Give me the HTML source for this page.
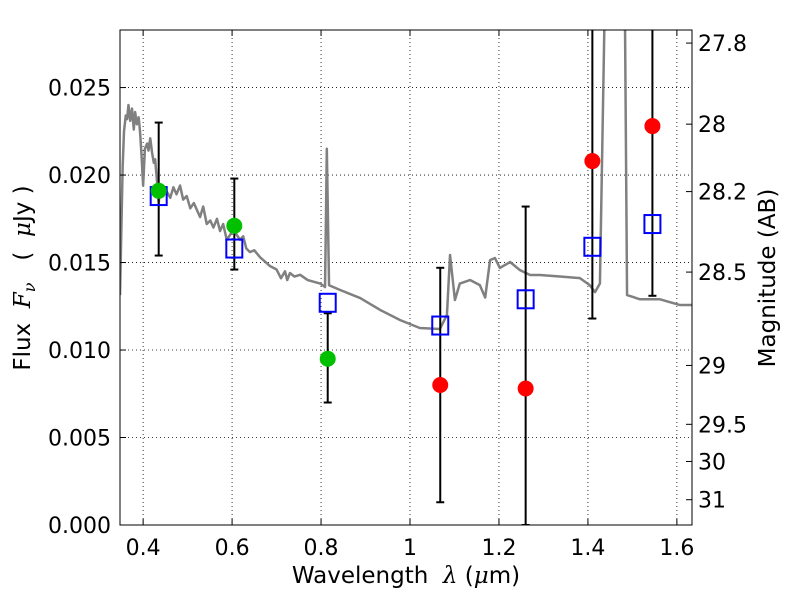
<!DOCTYPE html>
<html><head><meta charset="utf-8"><style>
body{margin:0;background:#fff;}
text{font-family:"DejaVu Sans","Liberation Sans",sans-serif;fill:#000;}
</style></head><body>
<svg id="chart" width="800" height="600" xmlns="http://www.w3.org/2000/svg">
<defs><clipPath id="pc"><rect x="120" y="30" width="572" height="495"/></clipPath></defs>
<g id="grid"></g>
<g id="spec" clip-path="url(#pc)"></g>
<g id="pts" clip-path="url(#pc)"></g>
<rect x="120" y="30" width="572" height="495" fill="none" stroke="#000" stroke-width="1"/>
<g id="axes"></g>
<text x="406" y="583" font-size="23" text-anchor="middle" xml:space="preserve">Wavelength  <tspan font-style="italic" font-family="DejaVu Serif, serif">λ</tspan> (<tspan font-style="italic" font-family="DejaVu Serif, serif">μ</tspan>m)</text>
<text transform="translate(30,278) rotate(-90)" font-size="23" text-anchor="middle" xml:space="preserve">Flux  <tspan font-style="italic" font-family="DejaVu Serif, serif">F<tspan font-size="16" dy="5">ν</tspan></tspan><tspan dy="-5">   (  </tspan><tspan font-style="italic" font-family="DejaVu Serif, serif">μ</tspan>Jy )</text>
<text transform="translate(775,278) rotate(-90)" font-size="23" text-anchor="middle">Magnitude (AB)</text>
</svg>
<script>
const specX=[0.348,0.354,0.357,0.361,0.364,0.367,0.371,0.375,0.379,0.382,0.386,0.390,0.393,0.396,0.400,0.404,0.409,0.412,0.416,0.420,0.424,0.427,0.431,0.435,0.438,0.445,0.452,0.461,0.468,0.475,0.483,0.490,0.498,0.506,0.514,0.521,0.528,0.535,0.543,0.551,0.558,0.566,0.573,0.580,0.588,0.596,0.603,0.610,0.618,0.625,0.632,0.640,0.650,0.663,0.672,0.685,0.700,0.710,0.719,0.724,0.730,0.740,0.753,0.770,0.798,0.809,0.813,0.818,0.843,0.888,0.933,0.978,1.022,1.067,1.083,1.090,1.101,1.112,1.135,1.157,1.169,1.180,1.191,1.202,1.225,1.247,1.270,1.292,1.337,1.382,1.404,1.416,1.427,1.438,1.461,1.483,1.488,1.517,1.562,1.607,1.634];
const specY=[0.01314,0.0205,0.0225,0.0234,0.0232,0.0240,0.0231,0.0238,0.0226,0.0236,0.0229,0.0233,0.0225,0.0213,0.0194,0.0215,0.0218,0.0214,0.0221,0.0213,0.0207,0.0209,0.0197,0.0184,0.0192,0.0188,0.0191,0.0187,0.0193,0.0189,0.0194,0.0186,0.0188,0.0181,0.0184,0.0180,0.0176,0.0182,0.0172,0.0174,0.0170,0.0175,0.0168,0.0172,0.0163,0.0166,0.0169,0.0166,0.0163,0.0165,0.0158,0.0156,0.0157,0.0153,0.0151,0.0148,0.0146,0.0141,0.0145,0.0140,0.0144,0.0142,0.0143,0.0140,0.0138,0.0136,0.0215,0.0137,0.01343,0.01297,0.01229,0.01171,0.01126,0.0112,0.012,0.01543,0.01286,0.0138,0.014,0.01371,0.01300,0.01514,0.01526,0.01469,0.01503,0.01457,0.01429,0.01429,0.01420,0.01411,0.01371,0.01331,0.0138,0.0300,0.0300,0.0300,0.01314,0.0129,0.0129,0.01257,0.01257];
const bandX=[0.435,0.605,0.815,1.068,1.26,1.41,1.545];
const obsY=[0.0191,0.0171,0.0095,0.0080,0.0078,0.0208,0.0228];
const errLo=[0.0154,0.0146,0.0070,0.0013,0.0,0.0118,0.0131];
const errHi=[0.0230,0.0198,0.0121,0.0147,0.0182,0.0300,0.0300];
const modelY=[0.0188,0.0158,0.0127,0.0114,0.0129,0.0159,0.0172];
const isDetected=[true,true,true,false,false,false,false];
const xTicks=[0.4,0.6,0.8,1.0,1.2,1.4,1.6];
const xTickLabels=["0.4","0.6","0.8","1","1.2","1.4","1.6"];
const yTicks=[0,0.005,0.010,0.015,0.020,0.025];
const yTickLabels=["0.000","0.005","0.010","0.015","0.020","0.025"];
const magTicks=[27.8,28,28.2,28.5,29,29.5,30,31];

const X0=120,X1=692,Y0=525,Y1=30,xmin=0.348,xmax=1.634,ymin=0,ymax=0.02829;
const sx=v=>X0+(v-xmin)/(xmax-xmin)*(X1-X0);
const sy=v=>Y0-(v-ymin)/(ymax-ymin)*(Y0-Y1);
const NS="http://www.w3.org/2000/svg";
function mk(tag,attrs,parent){const e=document.createElementNS(NS,tag);for(const k in attrs)e.setAttribute(k,attrs[k]);parent.appendChild(e);return e;}
const grid=document.getElementById('grid'),axes=document.getElementById('axes'),spec=document.getElementById('spec'),pts=document.getElementById('pts');
xTicks.forEach((t,i)=>{const x=sx(t);
 const g=mk('line',{x1:x,x2:x,y1:Y1,y2:Y0,stroke:'#000','stroke-dasharray':'1,3','stroke-width':0.8},grid);
 
 mk('line',{x1:x,x2:x,y1:Y0,y2:Y0-6,stroke:'#000'},axes);
 mk('line',{x1:x,x2:x,y1:Y1,y2:Y1+6,stroke:'#000'},axes);
 const tx=mk('text',{x:x,y:Y0+30,'font-size':22,'text-anchor':'middle'},axes);tx.textContent=xTickLabels[i];
 });
yTicks.forEach((t,i)=>{const y=sy(t);
 const g=mk('line',{x1:X0,x2:X1,y1:y,y2:y,stroke:'#000','stroke-dasharray':'1,3','stroke-width':0.8},grid);
 
 mk('line',{x1:X0,x2:X0+6,y1:y,y2:y,stroke:'#000'},axes);
 const tx=mk('text',{x:X0-9,y:y+8,'font-size':22,'text-anchor':'end'},axes);tx.textContent=yTickLabels[i];
 });
magTicks.forEach(m=>{const y=sy(Math.pow(10,-(m-23.9)/2.5));
 mk('line',{x1:X1,x2:X1-6,y1:y,y2:y,stroke:'#000'},axes);
 const tx=mk('text',{x:X1+6,y:y+8,'font-size':22},axes);tx.textContent=String(m);
 });
const p=mk('polyline',{points:specX.map((x,i)=>sx(x)+','+sy(specY[i])).join(' '),fill:'none',stroke:'#808080','stroke-width':2.5,'stroke-linejoin':'round'},spec);

bandX.forEach((b,i)=>{const x=sx(b);
 const e=mk('g',{},pts);
 mk('line',{x1:x,x2:x,y1:sy(errLo[i]),y2:sy(errHi[i]),stroke:'#000','stroke-width':2},e);
 mk('line',{x1:x-4,x2:x+4,y1:sy(errLo[i]),y2:sy(errLo[i]),stroke:'#000','stroke-width':2},e);
 mk('line',{x1:x-4,x2:x+4,y1:sy(errHi[i]),y2:sy(errHi[i]),stroke:'#000','stroke-width':2},e);
 const r=mk('rect',{x:x-8,y:sy(modelY[i])-9,width:16,height:18,fill:'none',stroke:'#0000ff','stroke-width':2},pts);
 
 const c=mk('circle',{cx:x,cy:sy(obsY[i]),r:8,fill:isDetected[i]?'#00c000':'#ff0000'},pts);
 });
</script>
</body></html>
